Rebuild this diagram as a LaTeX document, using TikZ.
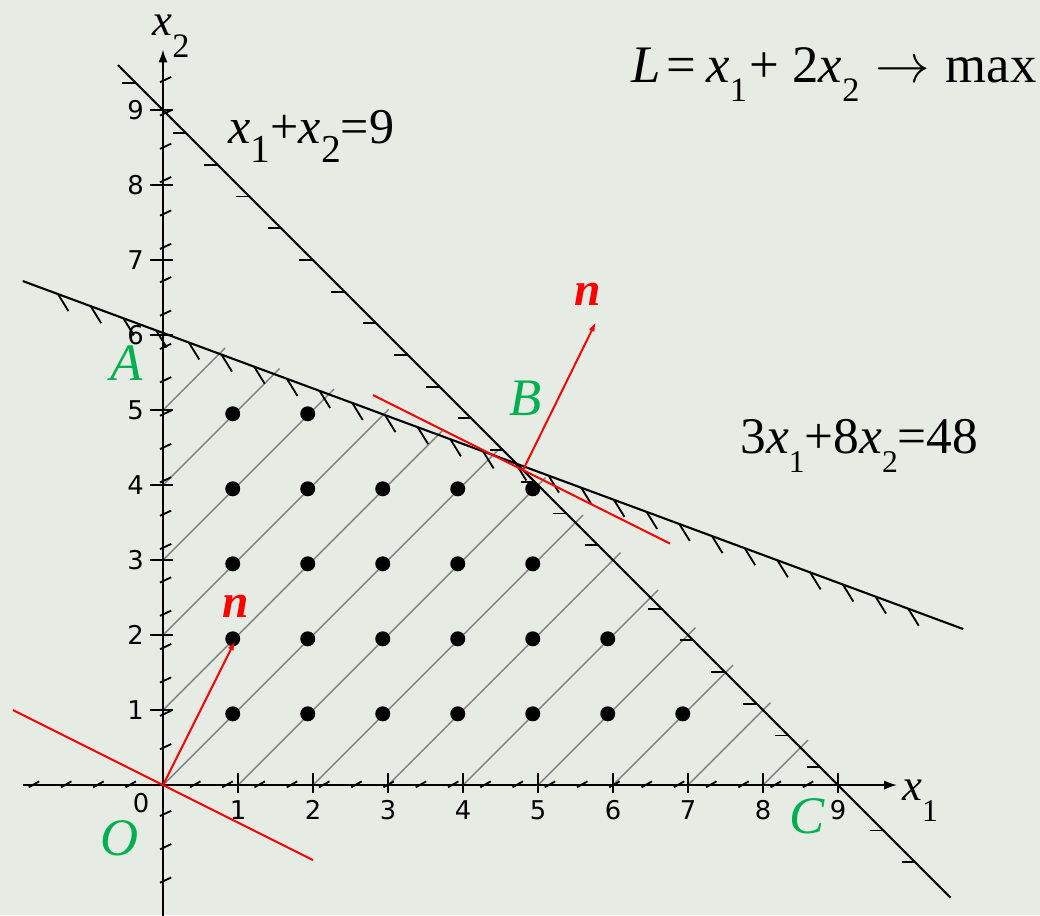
\documentclass[tikz,border=0pt]{standalone}
\usepackage{fontspec}
\setmainfont{Liberation Serif}
\newfontfamily\tickfont{DejaVu Sans}
\usepackage{graphicx}
\usetikzlibrary{arrows.meta,calc}
\definecolor{bggreen}{HTML}{E6ECE4}
\definecolor{lblgreen}{HTML}{00B050}
\definecolor{hatchgray}{HTML}{808080}
\newcommand{\xsb}[3]{\textit{x}\raisebox{#3}{\fontsize{#2}{#2}\selectfont #1}}
\begin{document}
\begin{tikzpicture}[x=1cm,y=1cm,
  axis/.style={line width=0.8pt,black},
  bound/.style={line width=0.8pt,black},
  hatch/.style={line width=0.55pt,hatchgray},
  tickm/.style={line width=0.7pt,black},
  redl/.style={line width=0.75pt,red},
  redarrow/.style={redl,-{Latex[length=3.5pt,width=2.4pt]}},
  pt/.style={circle,fill=black,inner sep=0pt,minimum size=0.2cm},
  ticklbl/.style={font=\tickfont\fontsize{9.8pt}{9.8pt}\selectfont,inner sep=0pt},
  ptlabel/.style={text=lblgreen,font=\fontsize{20pt}{20pt}\selectfont\itshape,inner sep=0pt},
  nlabel/.style={text=red,font=\fontsize{18pt}{18pt}\selectfont\bfseries\itshape,inner sep=0pt},
  eqn/.style={anchor=base west,inner sep=0pt}
]
\fill[bggreen] (-2.173,-1.733) rectangle (11.693,10.467);
\useasboundingbox (-2.173,-1.733) rectangle (11.693,10.467);

% hatching of the feasible region
\foreach \c in {-8,...,5}{
  \pgfmathsetmacro{\xs}{max(0,-\c)}
  \pgfmathsetmacro{\xe}{min((9-\c)/2,(48-8*\c)/11)+0.1}
  \draw[hatch] (\xs,\xs+\c) -- (\xe,\xe+\c);
}

% axes
\draw[axis,-{Latex[length=5pt,width=3.5pt]}] (-1.87,0) -- (9.79,0);
\draw[axis,-{Latex[length=5pt,width=3.5pt]}] (0,-1.75) -- (0,9.81);
\foreach \k in {1,...,9}{
  \draw[tickm] (\k,-0.11) -- (\k,0.16);
  \node[ticklbl] (tx\k) at (\k,-0.333) {\k};
  \draw[tickm] (-0.17,\k) -- (0.13,\k);
  \node[ticklbl,anchor=east] (ty\k) at (-0.25,\k) {\k};
}
\node[ticklbl] (t0) at (-0.293,-0.24) {0};
\foreach \k in {-4,-3,-2,-1,1,2,...,20}
  \draw[tickm] ({\k*0.43-0.07},-0.03) -- ({\k*0.43+0.07},0.05);
\foreach \k in {-4,-3,-2,0,1,...,20}
  \draw[tickm] (-0.04,{0.507+\k*0.4447-0.03}) -- (0.11,{0.507+\k*0.4447+0.04});

% constraint x1+x2=9
\coordinate (P1) at (-0.6,9.6);
\coordinate (P2) at (10.5,-1.5);
\draw[bound] (P1) -- (P2);
\draw[tickm] (-0.36,9.36) -- (-0.54,9.36);
\foreach \k in {0,...,13,15,16,...,20,22,23}{
  \pgfmathsetmacro{\yy}{8.693-0.4227*\k}
  \draw[tickm] ({9-\yy},\yy) -- ({9-\yy-0.18},\yy);
}

% constraint 3x1+8x2=48
\coordinate (Q1) at (-1.87,6.72);
\coordinate (Q2) at (10.67,2.08);
\draw[bound] (Q1) -- (Q2);
\foreach \k in {0,...,26}{
  \pgfmathsetmacro{\xx}{-1.4+0.436*\k}
  \pgfmathsetmacro{\yy}{6.72-(\xx+1.87)*0.37}
  \draw[tickm] (\xx,\yy) -- ++(0.14,-0.227);
}

% integer points
\foreach \a/\b in {1/1,2/1,3/1,4/1,5/1,6/1,7/1,1/2,2/2,3/2,4/2,5/2,6/2,1/3,2/3,3/3,4/3,5/3,1/4,2/4,3/4,4/4,5/4,1/5,2/5}
  \node[pt] (d\a\b) at ({\a-0.07},{\b-0.05}) {};

% level lines and gradient
\coordinate (O) at (0,0);
\coordinate (B) at (4.8,4.2);
\coordinate (L1a) at (-2.0,1.0);
\coordinate (L1b) at (2.0,-1.0);
\coordinate (nO) at (0.96,1.92);
\coordinate (L2a) at ($(B)+(-2.0,1.0)$);
\coordinate (L2b) at ($(B)+(1.96,-0.98)$);
\coordinate (nB) at ($(B)+(0.97,1.97)$);
\draw[redl] (L1a) -- (L1b);
\draw[redarrow] (O) -- (nO);
\draw[redl] (L2a) -- (L2b);
\draw[redarrow] (B) -- (nB);

% labels
\node[ptlabel] (Al) at (-0.49,5.63) {A};
\node[ptlabel] (Bl) at (4.83,5.16) {B};
\node[ptlabel] (Cl) at (8.587,-0.413) {C};
\node[ptlabel] (Ol) at (-0.573,-0.707) {O};
\node[nlabel] (n1) at (0.973,2.387) {n};
\node[nlabel] (n2) at (5.667,6.547) {n};

\node[eqn,font=\fontsize{19pt}{19pt}\selectfont] (c1) at (0.867,8.56)
  {\xsb{1}{15pt}{-7.5pt}+\xsb{2}{15pt}{-7.5pt}=9};
\node[eqn,font=\fontsize{19.5pt}{19.5pt}\selectfont] (c2) at (7.69,4.427)
  {3\xsb{1}{12pt}{-7.5pt}+8\xsb{2}{12pt}{-7.5pt}=48};
\node[eqn,font=\fontsize{20pt}{20pt}\selectfont] (obj) at (6.24,9.373)
  {\textit{L}\kern2pt=\kern4pt\xsb{1}{13pt}{-7.5pt}\kern1pt+\kern5pt2\xsb{2}{13pt}{-7.5pt}\kern6pt$\rightarrow$\kern6pt max};
\node[eqn,font=\fontsize{17pt}{17pt}\selectfont] (x1l) at (9.85,-0.2) {\xsb{1}{12pt}{-8pt}};
\node[eqn,font=\fontsize{17pt}{17pt}\selectfont] (x2l) at (-0.147,9.987) {\xsb{2}{13pt}{-8pt}};
\end{tikzpicture}
\end{document}
